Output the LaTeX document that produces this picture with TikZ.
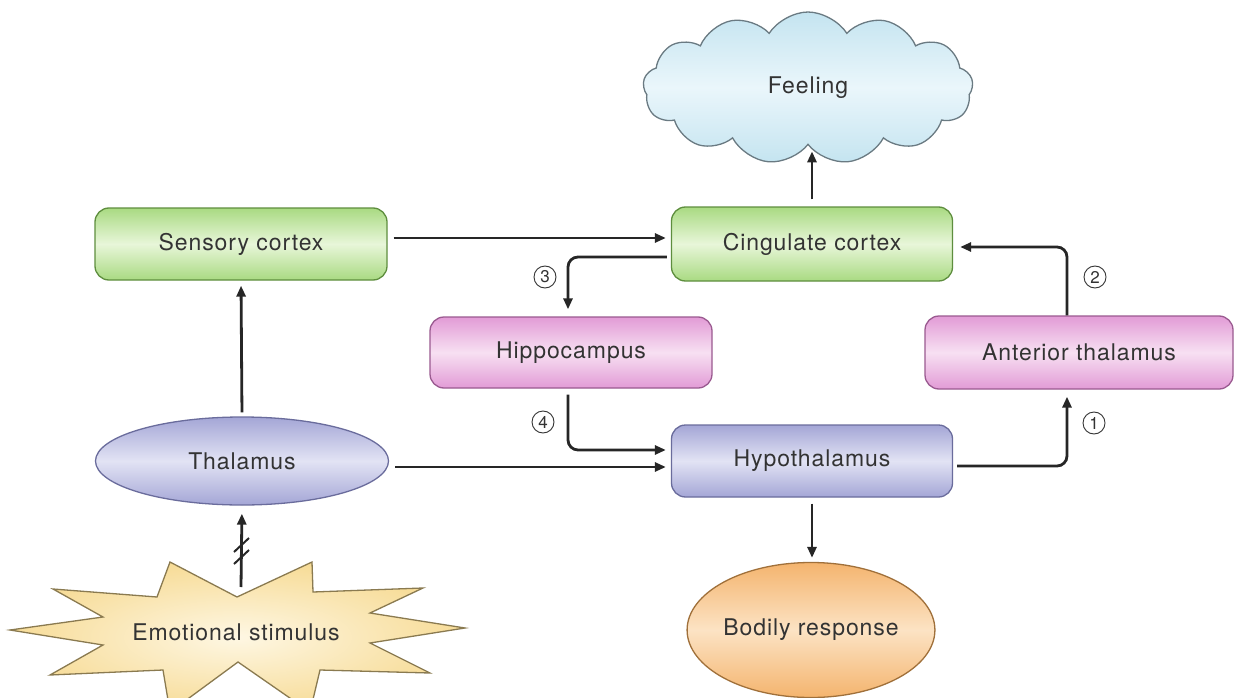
\documentclass[tikz,border=0pt]{standalone}
\usepackage{fontspec}
\setmainfont{TeX Gyre Heros}[LetterSpace=4.0]
\usetikzlibrary{shapes.geometric,shapes.symbols,arrows.meta}
\definecolor{txt}{HTML}{333333}
\definecolor{ln}{HTML}{262626}
\definecolor{gE}{HTML}{A9DA82}\definecolor{gC}{HTML}{E8F6D9}\definecolor{gB}{HTML}{5E8E3E}
\definecolor{pE}{HTML}{E29BD6}\definecolor{pC}{HTML}{F7E0F2}\definecolor{pB}{HTML}{9A5A90}
\definecolor{vE}{HTML}{A4A6D6}\definecolor{vC}{HTML}{E2E3F4}\definecolor{vB}{HTML}{6A6C9C}
\definecolor{oE}{HTML}{F4B46E}\definecolor{oC}{HTML}{FCE3C4}\definecolor{oB}{HTML}{A0703A}
\definecolor{bE}{HTML}{C4E4F0}\definecolor{bC}{HTML}{EAF6FB}\definecolor{bB}{HTML}{6A7A82}
\definecolor{yE}{HTML}{F7DC98}\definecolor{yC}{HTML}{FEF7E3}\definecolor{yB}{HTML}{8A7A50}
\begin{document}
\begin{tikzpicture}[x=1pt,y=-1pt,
  lbl/.style={text=txt,font=\fontsize{23}{26}\selectfont},
  rbox/.style={lbl,rounded corners=14pt,line width=1.3pt,inner sep=0pt},
  greenbox/.style={rbox,draw=gB,top color=gE,bottom color=gE,middle color=gC},
  pinkbox/.style={rbox,draw=pB,top color=pE,bottom color=pE,middle color=pC},
  violetbox/.style={rbox,draw=vB,top color=vE,bottom color=vE,middle color=vC},
  violetell/.style={lbl,ellipse,inner sep=0pt,line width=1.3pt,draw=vB,top color=vE,bottom color=vE,middle color=vC},
  orangeell/.style={lbl,ellipse,inner sep=0pt,line width=1.3pt,draw=oB,top color=oE,bottom color=oE,middle color=oC},
  arr/.style={draw=ln,line width=2.8pt,-{Triangle[length=11pt,width=9pt]}},
  num/.style={circle,draw=txt,line width=0.9pt,inner sep=0pt,minimum size=22pt,text=txt,font=\fontsize{17}{17}\selectfont}]
\useasboundingbox (0,0) rectangle (1239,698);
\fill[white] (0,0) rectangle (1239,698);

% nodes
\node[cloud,cloud puffs=13,cloud puff arc=115,aspect=2.1,minimum width=330pt,minimum height=152pt,inner sep=0pt,
      line width=1.3pt,draw=bB,top color=bE,bottom color=bE,middle color=bC,lbl] (feel) at (808,88) {Feeling};
\node[greenbox,minimum width=292pt,minimum height=72pt] (sens) at (241,244) {Sensory cortex};
\node[greenbox,minimum width=281pt,minimum height=74pt] (cing) at (812,244) {Cingulate cortex};
\node[pinkbox,minimum width=282pt,minimum height=71pt] (hipp) at (571,352.5) {Hippocampus};
\node[pinkbox,minimum width=308pt,minimum height=73pt] (ant) at (1079,352.5) {Anterior thalamus};
\node[violetbox,minimum width=281pt,minimum height=72pt] (hypo) at (812,461) {Hypothalamus};
\node[violetell,minimum width=293pt,minimum height=88pt] (thal) at (242,461) {Thalamus};
\node[orangeell,minimum width=232pt,minimum height=135pt] (bod) at (811,630) {Bodily response};

% starburst
\path[draw=yB,line width=1.3pt,inner color=yC,outer color=yE]
  (10,630) -- (103,617) -- (53,589) -- (157,597) -- (170,562) -- (237,597) -- (312,562)
  -- (313,592) -- (423,588) -- (370,613) -- (465,628) -- (370,643) -- (430,673)
  -- (320,670) -- (310,712) -- (238,662) -- (170,712) -- (163,670) -- (50,675)
  -- (103,645) -- cycle;
\node[lbl] (stim) at (236,632) {Emotional stimulus};
\coordinate (stimtop) at (241,587);

% connectors
\draw[arr,shorten <=6pt,shorten >=5pt] ([yshift=6pt]sens.east) -- ([yshift=6pt]cing.west);
\draw[arr,rounded corners=10pt,shorten <=4pt,shorten >=7pt] ([yshift=-13pt]cing.west) -| ([xshift=-3pt]hipp.north);
\draw[arr,rounded corners=10pt,shorten <=6pt,shorten >=5pt] ([xshift=-3pt]hipp.south) |- ([yshift=11pt]hypo.west);
\draw[arr,shorten <=6pt,shorten >=5pt] ([yshift=-6pt]thal.east) -- ([yshift=-6pt]hypo.west);
\draw[arr,rounded corners=10pt,shorten <=4pt,shorten >=7pt] ([yshift=-5pt]hypo.east) -| ([xshift=-12pt]ant.south);
\draw[arr,rounded corners=10pt,shorten >=7pt] ([xshift=-12pt]ant.north) |- ([yshift=-3pt]cing.east);
\draw[arr,shorten <=7pt,shorten >=6pt] (cing.north) -- (cing.north |- feel.south);
\draw[arr,shorten <=6pt,shorten >=4pt] (hypo.south) -- (hypo.south |- bod.north);
\draw[arr,shorten <=4pt,shorten >=5pt] (thal.north) -- (sens.south);
\draw[arr,shorten >=8pt] (stimtop) -- (thal.south);
% break marks
\draw[ln,line width=2pt] (234,552) -- (249,538);
\draw[ln,line width=2pt] (234,564) -- (249,550);

% step numbers
\node[num] (n1) at (1094,423) {1};
\node[num] (n2) at (1095,277) {2};
\node[num] (n3) at (545,277) {3};
\node[num] (n4) at (543,422) {4};
\end{tikzpicture}
\end{document}
